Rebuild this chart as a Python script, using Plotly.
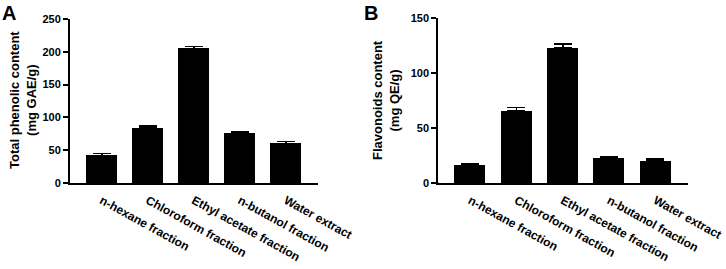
import plotly.graph_objects as go

categories = ["n-hexane fraction", "Chloroform fraction", "Ethyl acetate fraction",
              "n-butanol fraction", "Water extract"]
phenolic = [42.2, 84.3, 205.3, 76.2, 60.5]
phenolic_err = [2.5, 2.6, 3.1, 2.0, 3.0]
flavonoids = [17.0, 66.0, 122.8, 23.0, 20.6]
flavonoids_err = [0.9, 2.7, 3.3, 1.2, 1.2]
ticks_a = [0, 50, 100, 150, 200, 250]
ticks_b = [0, 50, 100, 150]

W, H = 726, 269
FONT = "Liberation Sans, Arial, sans-serif"

def px(v):
    return v / W

def py(v):
    return 1 - v / H

fig = go.Figure()
x_idx = list(range(len(categories)))

fig.add_trace(go.Bar(x=x_idx, y=phenolic, width=0.67, marker=dict(color="black", line=dict(width=0)),
                     error_y=dict(type="data", array=phenolic_err, arrayminus=[0]*5, symmetric=False,
                                  color="black", thickness=1.5, width=9),
                     xaxis="x", yaxis="y", showlegend=False))
fig.add_trace(go.Bar(x=x_idx, y=flavonoids, width=0.67, marker=dict(color="black", line=dict(width=0)),
                     error_y=dict(type="data", array=flavonoids_err, arrayminus=[0]*5, symmetric=False,
                                  color="black", thickness=1.5, width=9),
                     xaxis="x2", yaxis="y2", showlegend=False))

xtickfont = dict(family=FONT, size=12, color="black", weight="bold")
ytickfont = dict(family=FONT, size=11, color="black", weight="bold")
xcommon = dict(range=[-0.69, 4.7], tickmode="array", tickvals=x_idx, ticktext=categories,
               tickangle=29, showline=True, linecolor="black", linewidth=2, ticks="",
               showgrid=False, zeroline=False, tickfont=xtickfont, fixedrange=True,
               automargin=False, ticklabeloverflow="allow", ticklabelstandoff=4)
ycommon = dict(showline=True, linecolor="black", linewidth=2, ticks="outside", ticklen=5,
               tickwidth=2, tickcolor="black", showgrid=False, zeroline=False,
               tickfont=ytickfont, tickmode="array", automargin=False, fixedrange=True,
               ticklabeloverflow="allow")

fig.update_layout(
    width=W, height=H, margin=dict(l=0, r=0, t=0, b=0, autoexpand=False),
    paper_bgcolor="white", plot_bgcolor="white", bargap=0,
    xaxis=dict(domain=[px(70), px(318)], anchor="y", **xcommon),
    yaxis=dict(domain=[py(183), py(19)], anchor="x", range=[0, 250], tickvals=ticks_a, **ycommon),
    xaxis2=dict(domain=[px(438.3), px(687.7)], anchor="y2", **xcommon),
    yaxis2=dict(domain=[py(183), py(17.7)], anchor="x2", range=[0, 150], tickvals=ticks_b, **ycommon),
)

# extend x-axis lines to the left under the y tick marks
for x0, x1 in [(64, 70), (432, 438.3)]:
    fig.add_shape(type="line", xref="paper", yref="paper", x0=px(x0), x1=px(x1),
                  y0=py(183), y1=py(183), line=dict(color="black", width=2))

titlefont = dict(family=FONT, size=13, color="black", weight="bold")
fig.add_annotation(text="Total phenolic content<br>(mg GAE/g)", textangle=-90,
                   x=px(23), y=py(100), xref="paper", yref="paper", showarrow=False,
                   font=titlefont, xanchor="center", yanchor="middle")
fig.add_annotation(text="Flavonoids content<br>(mg QE/g)", textangle=-90,
                   x=px(386), y=py(100), xref="paper", yref="paper", showarrow=False,
                   font=titlefont, xanchor="center", yanchor="middle")

panelfont = dict(family=FONT, size=20, color="black", weight="bold")
fig.add_annotation(text="A", x=px(0), y=py(0), xref="paper", yref="paper", showarrow=False,
                   font=panelfont, xanchor="left", yanchor="top")
fig.add_annotation(text="B", x=px(362), y=py(0), xref="paper", yref="paper", showarrow=False,
                   font=panelfont, xanchor="left", yanchor="top")

css_fix = ("document.documentElement.style.margin='0';"
           "document.documentElement.style.overflow='hidden';"
           "document.body.style.margin='0';"
           "document.body.style.overflow='hidden';")
fig.write_html("out.html", config={"displayModeBar": False}, post_script=css_fix)
